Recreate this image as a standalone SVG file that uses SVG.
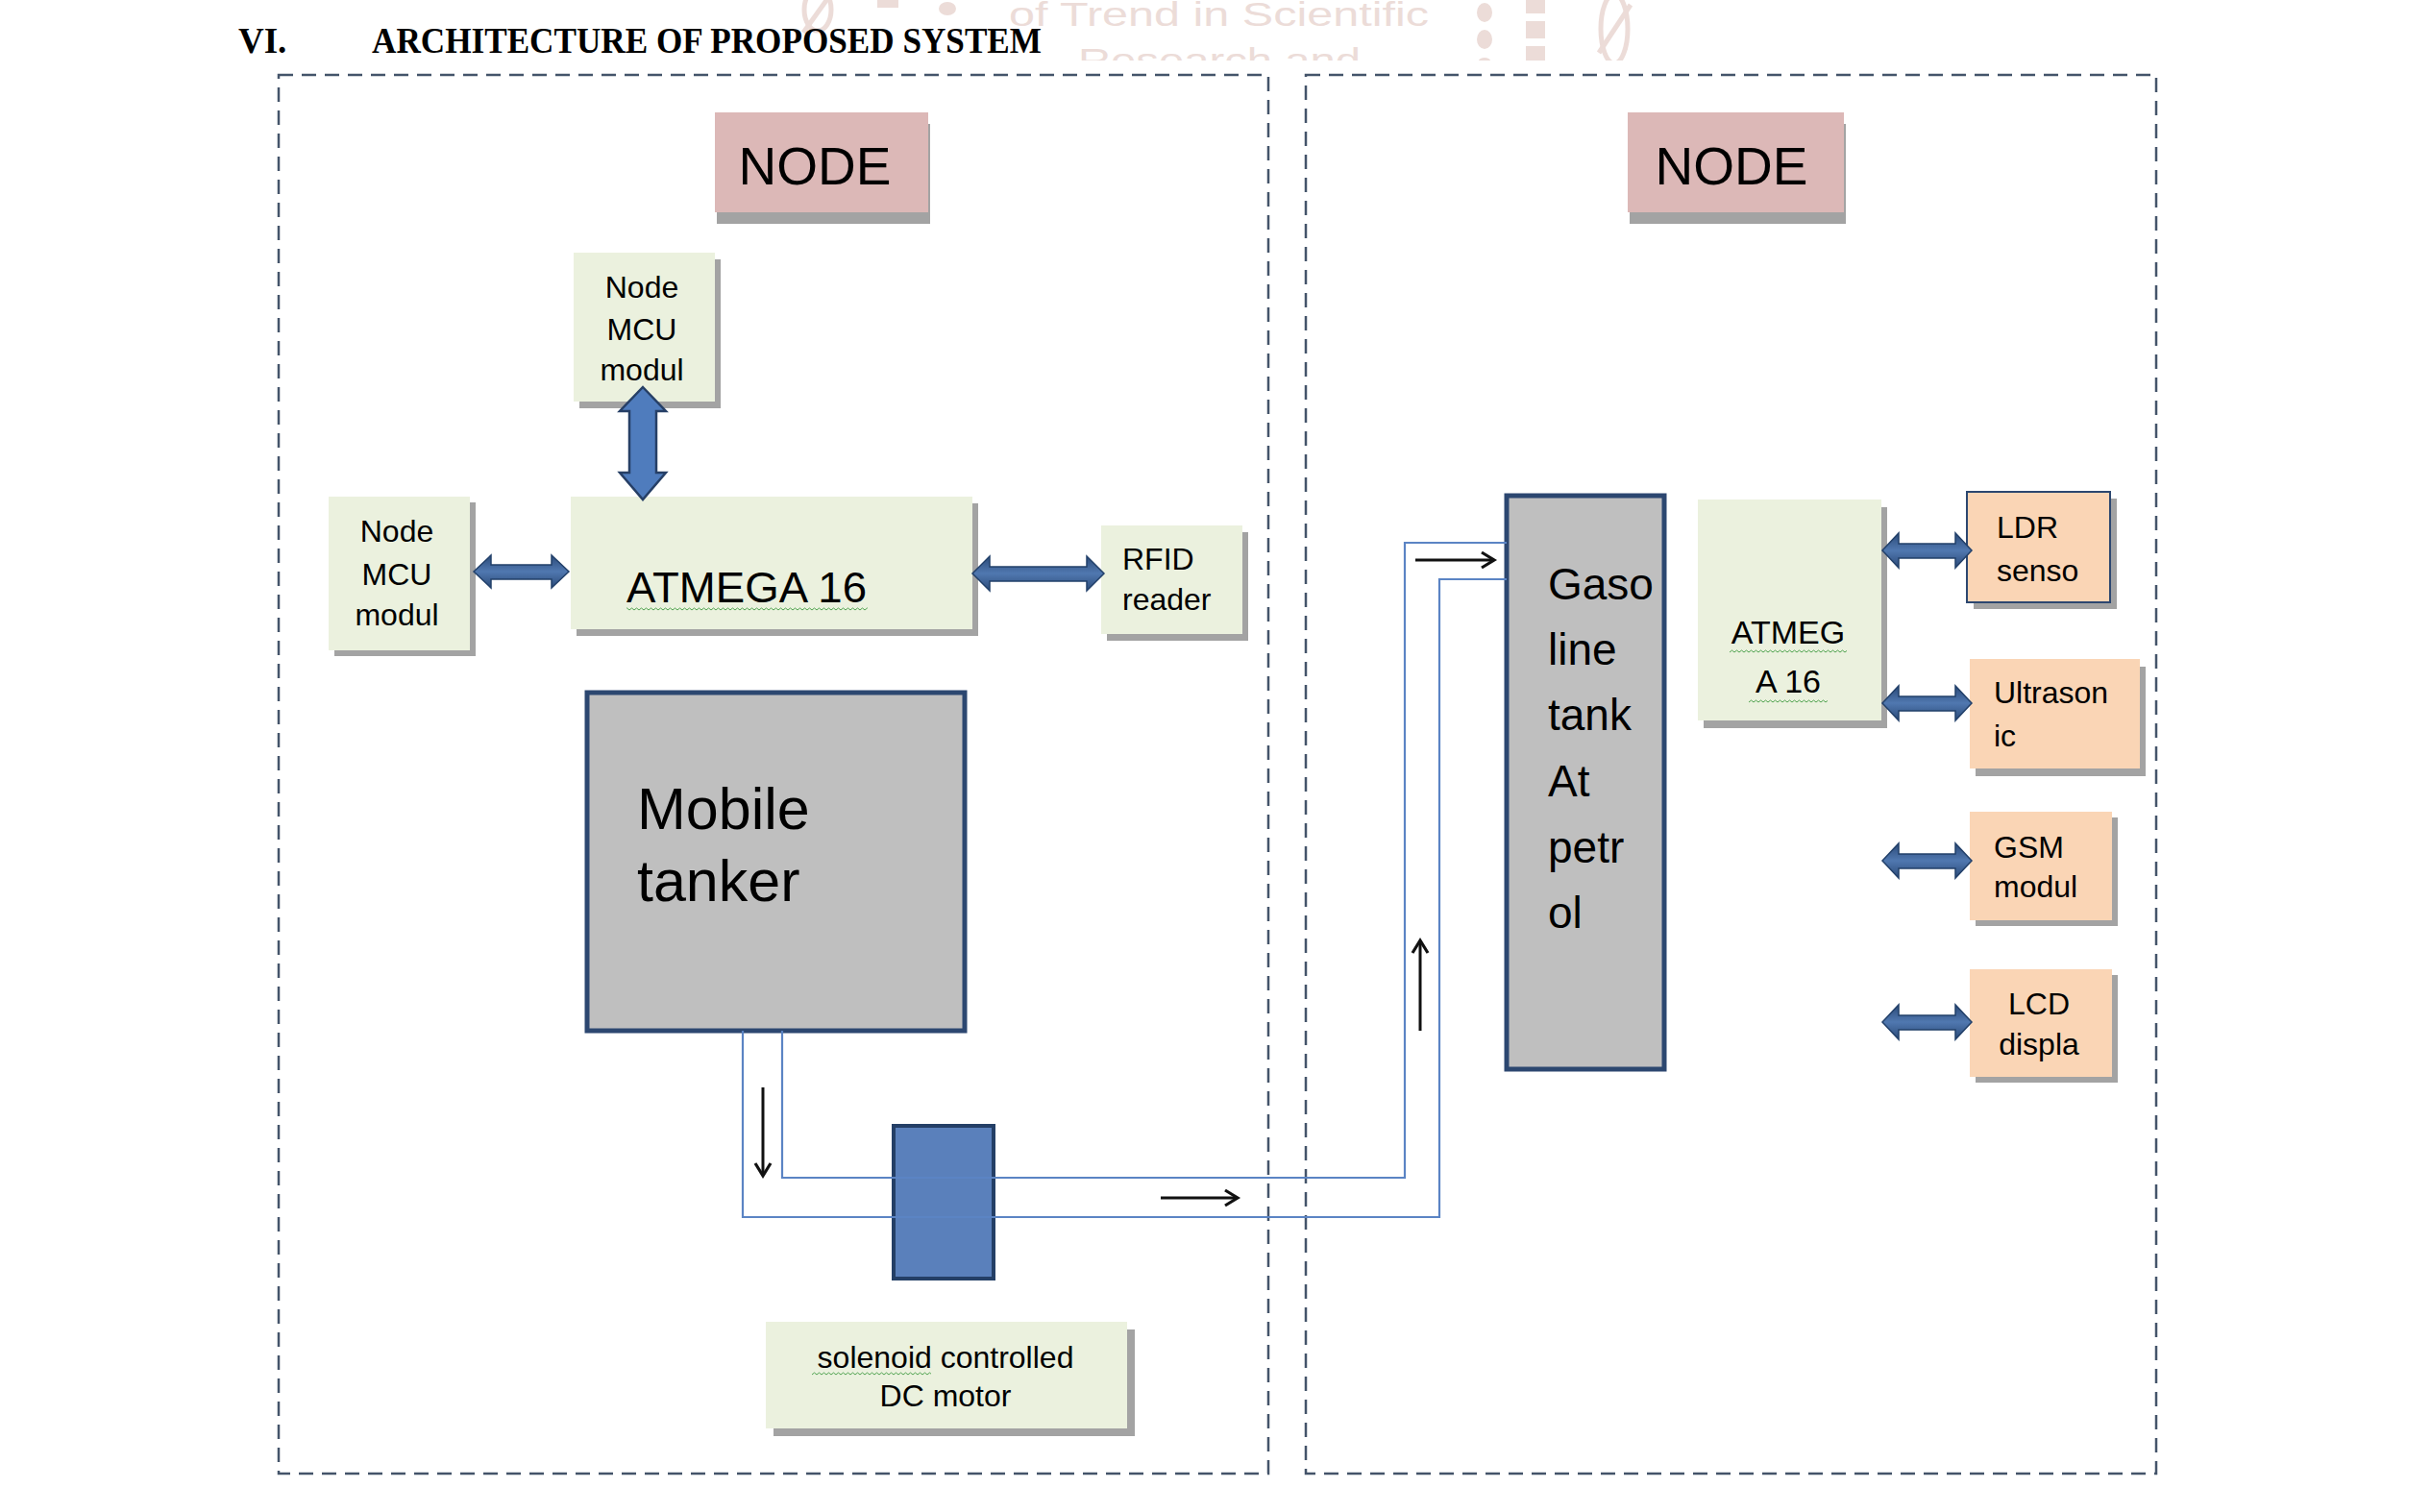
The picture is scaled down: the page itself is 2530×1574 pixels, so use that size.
<svg xmlns="http://www.w3.org/2000/svg" width="2530" height="1574" viewBox="0 0 2530 1574">
  <style>
    .frame { fill: none; stroke: #44546a; stroke-width: 2.5; stroke-dasharray: 15 9; }
    .shadow { fill: #a3a3a3; }
    .green { fill: #ebf1de; }
    .pink { fill: #dcb8b7; }
    .peach { fill: #fad5b5; }
    .tank { fill: #bfbfbf; stroke: #2c4770; stroke-width: 5; }
    .valve { fill: #5a80bb; stroke: #243f66; stroke-width: 4; }
    .pipe { fill: none; stroke: #5b84c4; stroke-width: 2.2; }
    .flow { fill: none; stroke: #111; stroke-width: 3; marker-end: url(#open); }
    .dbl { fill: url(#dblgrad); stroke: #22406a; stroke-width: 1.5; stroke-linejoin: miter; }
    .dblv { fill: #4f7cbd; stroke: #263f66; stroke-width: 2.5; }
    .t { font-family: "Liberation Sans", Arial, sans-serif; fill: #000; }
    .s32 { font-size: 32px; }
    .title { font-family: "Liberation Serif", "Times New Roman", serif; font-weight: bold; font-size: 37px; fill: #000; }
    .wm { fill: #ecdcd8; }
    .wmt { font-family: "Liberation Sans", Arial, sans-serif; font-size: 35px; fill: #ecdcd8; }
  </style>
  <defs>
    <marker id="open" viewBox="0 0 20 20" refX="16" refY="10" markerWidth="20" markerHeight="20" markerUnits="userSpaceOnUse" orient="auto">
      <path d="M3,2 L16,10 L3,18" fill="none" stroke="#111" stroke-width="3.2"/>
    </marker>
    <linearGradient id="dblgrad" x1="0" y1="0" x2="0" y2="1">
      <stop offset="0" stop-color="#2b4a78"/>
      <stop offset="0.5" stop-color="#5078b0"/>
      <stop offset="1" stop-color="#2b4a78"/>
    </linearGradient>
    <pattern id="sq" width="5" height="4" patternUnits="userSpaceOnUse">
      <path d="M0,3 L2.5,1 L5,3" fill="none" stroke="#4ea24e" stroke-width="1"/>
    </pattern>
    <clipPath id="wmclip"><rect x="0" y="0" width="2530" height="63"/></clipPath>
  </defs>

  <rect x="0" y="0" width="2530" height="1574" fill="#fff"/>

  <!-- watermark -->
  <g id="watermark" clip-path="url(#wmclip)">
    <text class="wmt" x="1050" y="27" textLength="437" lengthAdjust="spacingAndGlyphs">of Trend in Scientific</text>
    <text class="wmt" x="1122" y="75" textLength="294" lengthAdjust="spacingAndGlyphs">Research and</text>
    <ellipse class="wm" cx="986" cy="9" rx="9" ry="7"/>
    <ellipse class="wm" cx="1545" cy="13" rx="8" ry="10"/>
    <ellipse class="wm" cx="1545" cy="41" rx="8" ry="10"/>
    <ellipse class="wm" cx="1545" cy="63" rx="6" ry="3"/>
    <ellipse cx="851" cy="10" rx="14" ry="22" fill="none" stroke="#ecdcd8" stroke-width="5"/>
    <line x1="836" y1="34" x2="866" y2="-8" stroke="#ecdcd8" stroke-width="5"/>
    <ellipse cx="1680" cy="30" rx="14" ry="36" fill="none" stroke="#ecdcd8" stroke-width="5"/>
    <line x1="1664" y1="55" x2="1697" y2="5" stroke="#ecdcd8" stroke-width="5"/>
    <rect class="wm" x="913" y="0" width="22" height="8"/>
    <rect class="wm" x="1588" y="0" width="20" height="14"/>
    <rect class="wm" x="1588" y="22" width="20" height="18"/>
    <rect class="wm" x="1588" y="48" width="20" height="15"/>
  </g>

  <!-- title -->
  <text class="title" x="248" y="55">VI.</text>
  <text class="title" x="387" y="55" textLength="697" lengthAdjust="spacingAndGlyphs">ARCHITECTURE OF PROPOSED SYSTEM</text>

  <!-- frames -->
  <g id="frames">
    <rect class="frame" x="290" y="78" width="1030" height="1456"/>
    <rect class="frame" x="1359" y="78" width="885" height="1456"/>
  </g>

  <!-- left node -->
  <g id="node-left">
    <rect class="shadow" x="746" y="129" width="222" height="104"/>
    <rect class="pink" x="744" y="117" width="222" height="104"/>
    <text class="t" x="848" y="192" font-size="55" text-anchor="middle">NODE</text>
  </g>

  <g id="nodemcu-top">
    <rect class="shadow" x="603" y="270" width="147" height="155"/>
    <rect class="green" x="597" y="263" width="147" height="155"/>
    <text class="t s32" text-anchor="middle"><tspan x="668" y="310">Node</tspan><tspan x="668" y="354">MCU</tspan><tspan x="668" y="396">modul</tspan></text>
  </g>

  <g id="nodemcu-left">
    <rect class="shadow" x="348" y="523" width="147" height="160"/>
    <rect class="green" x="342" y="517" width="147" height="160"/>
    <text class="t s32" text-anchor="middle"><tspan x="413" y="564">Node</tspan><tspan x="413" y="609">MCU</tspan><tspan x="413" y="651">modul</tspan></text>
  </g>

  <g id="atmega-left">
    <rect class="shadow" x="600" y="524" width="418" height="138"/>
    <rect class="green" x="594" y="517" width="418" height="138"/>
    <text class="t" x="652" y="627" font-size="45" textLength="250" lengthAdjust="spacingAndGlyphs">ATMEGA 16</text>
    <rect x="652" y="632" width="251" height="4" fill="url(#sq)"/>
  </g>

  <g id="rfid">
    <rect class="shadow" x="1152" y="554" width="147" height="113"/>
    <rect class="green" x="1146" y="547" width="147" height="113"/>
    <text class="t s32"><tspan x="1168" y="593">RFID</tspan><tspan x="1168" y="635">reader</tspan></text>
  </g>

  <g id="mobile-tanker">
    <rect class="tank" x="611" y="721" width="393" height="352"/>
    <text class="t" font-size="61"><tspan x="663" y="863">Mobile</tspan><tspan x="663" y="938">tanker</tspan></text>
  </g>

  <g id="valve">
    <rect class="valve" x="930" y="1172" width="104" height="159"/>
  </g>

  <g id="solenoid-label">
    <rect class="shadow" x="805" y="1384" width="376" height="111"/>
    <rect class="green" x="797" y="1376" width="376" height="111"/>
    <text class="t s32" text-anchor="middle"><tspan x="984" y="1424">solenoid controlled</tspan><tspan x="984" y="1464">DC motor</tspan></text>
    <rect x="845" y="1428" width="124" height="4" fill="url(#sq)"/>
  </g>

  <!-- right node -->
  <g id="node-right">
    <rect class="shadow" x="1696" y="129" width="225" height="104"/>
    <rect class="pink" x="1694" y="117" width="225" height="104"/>
    <text class="t" x="1802" y="192" font-size="55" text-anchor="middle">NODE</text>
  </g>

  <g id="gasoline-tank">
    <rect class="tank" x="1568" y="516" width="164" height="597"/>
    <text class="t" font-size="46"><tspan x="1611" y="624">Gaso</tspan><tspan x="1611" y="692">line</tspan><tspan x="1611" y="760">tank</tspan><tspan x="1611" y="829">At</tspan><tspan x="1611" y="898">petr</tspan><tspan x="1611" y="966">ol</tspan></text>
  </g>

  <g id="atmega-right">
    <rect class="shadow" x="1773" y="528" width="191" height="230"/>
    <rect class="green" x="1767" y="520" width="191" height="230"/>
    <text class="t" font-size="34" text-anchor="middle"><tspan x="1861" y="670">ATMEG</tspan><tspan x="1861" y="721">A 16</tspan></text>
    <rect x="1800" y="676" width="122" height="4" fill="url(#sq)"/>
    <rect x="1820" y="728" width="82" height="4" fill="url(#sq)"/>
  </g>

  <g id="ldr">
    <rect class="shadow" x="2054" y="519" width="149" height="115"/>
    <rect class="peach" x="2047" y="512" width="149" height="115" stroke="#2c4770" stroke-width="2"/>
    <text class="t s32"><tspan x="2078" y="560">LDR</tspan><tspan x="2078" y="605">senso</tspan></text>
  </g>

  <g id="ultrasonic">
    <rect class="shadow" x="2056" y="694" width="177" height="114"/>
    <rect class="peach" x="2050" y="686" width="177" height="114"/>
    <text class="t s32"><tspan x="2075" y="732">Ultrason</tspan><tspan x="2075" y="777">ic</tspan></text>
  </g>

  <g id="gsm">
    <rect class="shadow" x="2056" y="851" width="148" height="113"/>
    <rect class="peach" x="2050" y="845" width="148" height="113"/>
    <text class="t s32"><tspan x="2075" y="893">GSM</tspan><tspan x="2075" y="934">modul</tspan></text>
  </g>

  <g id="lcd">
    <rect class="shadow" x="2056" y="1015" width="148" height="112"/>
    <rect class="peach" x="2050" y="1009" width="148" height="112"/>
    <text class="t s32" text-anchor="middle"><tspan x="2122" y="1056">LCD</tspan><tspan x="2122" y="1098">displa</tspan></text>
  </g>

  <!-- connectors (drawn on top) -->
  <g id="connectors">
    <path class="pipe" d="M773,1073 V1267 H1498 V603 H1568"/>
    <path class="pipe" d="M814,1073 V1226 H1462 V565 H1568"/>
    <line class="flow" x1="794" y1="1132" x2="794" y2="1224"/>
    <line class="flow" x1="1208" y1="1247" x2="1288" y2="1247"/>
    <line class="flow" x1="1478" y1="1073" x2="1478" y2="979"/>
    <line class="flow" x1="1473" y1="583" x2="1555" y2="583"/>
    <path class="dblv" d="M669,403 L693,428 L683,428 L683,492 L693,492 L669,520 L645,492 L655,492 L655,428 L645,428 Z"/>
    <path class="dbl" d="M493,595 L511,578 L511,588 L574,588 L574,578 L592,595 L574,612 L574,603 L511,603 L511,612 Z"/>
    <path class="dbl" d="M1012,597 L1030,579 L1030,590 L1131,590 L1131,579 L1149,597 L1131,615 L1131,605 L1030,605 L1030,615 Z"/>
    <path class="dbl" d="M1959,573 L1976,555 L1976,566 L2035,566 L2035,555 L2052,573 L2035,591 L2035,581 L1976,581 L1976,591 Z"/>
    <path class="dbl" d="M1959,732 L1976,714 L1976,725 L2035,725 L2035,714 L2052,732 L2035,750 L2035,740 L1976,740 L1976,750 Z"/>
    <path class="dbl" d="M1959,896 L1976,878 L1976,889 L2035,889 L2035,878 L2052,896 L2035,914 L2035,904 L1976,904 L1976,914 Z"/>
    <path class="dbl" d="M1959,1064 L1976,1046 L1976,1057 L2035,1057 L2035,1046 L2052,1064 L2035,1082 L2035,1072 L1976,1072 L1976,1082 Z"/>
  </g>
</svg>
